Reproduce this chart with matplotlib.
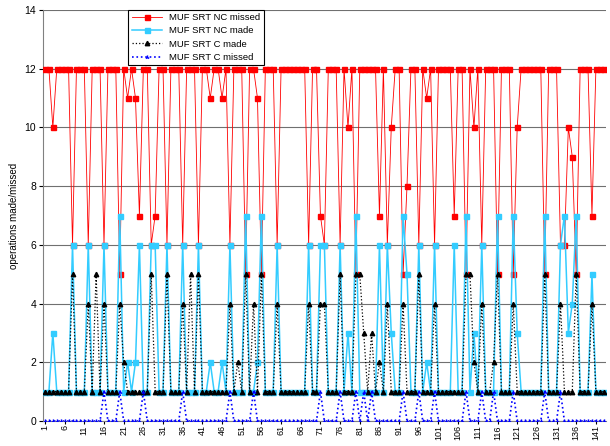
import numpy as np
import matplotlib.pyplot as plt

plt.rcParams['font.family'] = ['Liberation Sans', 'DejaVu Sans']

# Данные: 143 операции
nc_missed = [12, 12, 10, 12, 12, 12, 12, 6, 12, 12,
             12, 6, 12, 12, 12, 6, 12, 12, 12, 5,
             12, 11, 12, 11, 7, 12, 12, 6, 7, 12,
             12, 6, 12, 12, 12, 6, 12, 12, 12, 6,
             12, 12, 11, 12, 12, 11, 12, 6, 12, 12,
             12, 5, 12, 12, 11, 5, 12, 12, 12, 6,
             12, 12, 12, 12, 12, 12, 12, 6, 12, 12,
             7, 6, 12, 12, 12, 6, 12, 10, 12, 5,
             12, 12, 12, 12, 12, 7, 12, 6, 10, 12,
             12, 5, 8, 12, 12, 6, 12, 11, 12, 6,
             12, 12, 12, 12, 7, 12, 12, 5, 12, 10,
             12, 6, 12, 12, 12, 5, 12, 12, 12, 5,
             10, 12, 12, 12, 12, 12, 12, 5, 12, 12,
             12, 6, 6, 10, 9, 5, 12, 12, 12, 7,
             12, 12, 12]

nc_made = [1, 1, 3, 1, 1, 1, 1, 6, 1, 1,
           1, 6, 1, 1, 1, 6, 1, 1, 1, 7,
           1, 2, 1, 2, 6, 1, 1, 6, 6, 1,
           1, 6, 1, 1, 1, 6, 1, 1, 1, 6,
           1, 1, 2, 1, 1, 2, 1, 6, 1, 1,
           1, 7, 1, 1, 2, 7, 1, 1, 1, 6,
           1, 1, 1, 1, 1, 1, 1, 6, 1, 1,
           6, 6, 1, 1, 1, 6, 1, 3, 1, 7,
           1, 1, 1, 1, 1, 6, 1, 6, 3, 1,
           1, 7, 5, 1, 1, 6, 1, 2, 1, 6,
           1, 1, 1, 1, 6, 1, 1, 7, 1, 3,
           1, 6, 1, 1, 1, 7, 1, 1, 1, 7,
           3, 1, 1, 1, 1, 1, 1, 7, 1, 1,
           1, 6, 7, 3, 4, 7, 1, 1, 1, 5,
           1, 1, 1]

c_made = [1, 1, 1, 1, 1, 1, 1, 5, 1, 1,
          1, 4, 1, 5, 1, 4, 1, 1, 1, 4,
          2, 1, 1, 1, 1, 1, 1, 5, 1, 1,
          1, 5, 1, 1, 1, 4, 1, 5, 1, 5,
          1, 1, 1, 1, 1, 1, 1, 4, 1, 2,
          1, 5, 1, 4, 1, 5, 1, 1, 1, 4,
          1, 1, 1, 1, 1, 1, 1, 4, 1, 1,
          4, 4, 1, 1, 1, 5, 1, 1, 1, 5,
          5, 3, 1, 3, 1, 2, 1, 4, 1, 1,
          1, 4, 1, 1, 1, 5, 1, 1, 1, 4,
          1, 1, 1, 1, 1, 1, 1, 5, 5, 2,
          1, 4, 1, 1, 2, 5, 1, 1, 1, 4,
          1, 1, 1, 1, 1, 1, 1, 5, 1, 1,
          1, 4, 1, 1, 1, 5, 1, 1, 1, 4,
          1, 1, 1]

c_missed = [0, 0, 0, 0, 0, 0, 0, 0, 0, 0,
            0, 0, 0, 0, 0, 1, 0, 0, 0, 1,
            0, 0, 0, 0, 0, 1, 0, 0, 0, 0,
            0, 0, 0, 0, 0, 1, 0, 0, 0, 0,
            0, 0, 0, 0, 0, 0, 0, 1, 0, 0,
            0, 0, 0, 1, 0, 0, 0, 0, 0, 0,
            0, 0, 0, 0, 0, 0, 0, 0, 0, 0,
            1, 0, 0, 0, 0, 1, 0, 0, 0, 1,
            0, 1, 0, 1, 0, 0, 0, 0, 0, 0,
            0, 1, 0, 0, 0, 1, 0, 0, 0, 1,
            0, 0, 0, 0, 0, 0, 0, 1, 0, 0,
            0, 1, 0, 0, 1, 0, 0, 0, 0, 1,
            0, 0, 0, 0, 0, 0, 0, 1, 0, 0,
            0, 1, 0, 0, 0, 0, 0, 0, 0, 0,
            0, 0, 0]

x = np.arange(1, len(nc_missed) + 1)

fig = plt.figure(figsize=(6.1, 4.46), dpi=100)
ax = fig.add_axes([0.0705, 0.056, 0.9225, 0.9215])

ax.plot(x, nc_missed, color='#FF0000', lw=0.6, marker='s', ms=3.6,
        mec='#FF0000', label='MUF SRT NC missed', zorder=3)
ax.plot(x, nc_made, color='#33CCFF', lw=1.1, marker='s', ms=3.6,
        mec='#33CCFF', label='MUF SRT NC made', zorder=4)
ax.plot(x, c_made, color='black', lw=0.9, ls=':', marker='^', ms=3.2,
        label='MUF SRT C made', zorder=5)
ax.plot(x, c_missed, color='#0000FF', lw=1.2, ls=':', marker='2', ms=3,
        label='MUF SRT C missed', zorder=6)

ax.set_xlim(0.5, len(x) + 0.5)
ax.set_ylim(0, 14)
ax.set_yticks(range(0, 15, 2))
ax.set_xticks(range(1, len(x) + 1, 5))
ax.tick_params(axis='x', labelrotation=90, labelsize=6.5, length=2, pad=1)
ax.tick_params(axis='y', labelsize=7.5, length=3, pad=2)
ax.yaxis.grid(True, color='#707070', lw=0.8)
ax.set_axisbelow(True)
for s in ['top', 'right']:
    ax.spines[s].set_visible(False)
ax.spines['left'].set_color('#808080')
ax.spines['bottom'].set_color('#808080')

ax.set_ylabel('operations made/missed', fontsize=7, labelpad=4)

leg = ax.legend(loc='upper left', bbox_to_anchor=(0.143, 1.012), fontsize=6.8,
                frameon=True, fancybox=False, edgecolor='black', framealpha=1,
                handlelength=3.2, borderpad=0.35, labelspacing=0.45)
leg.get_frame().set_linewidth(0.8)
leg.set_zorder(10)

fig.savefig('out.png', dpi=100)
